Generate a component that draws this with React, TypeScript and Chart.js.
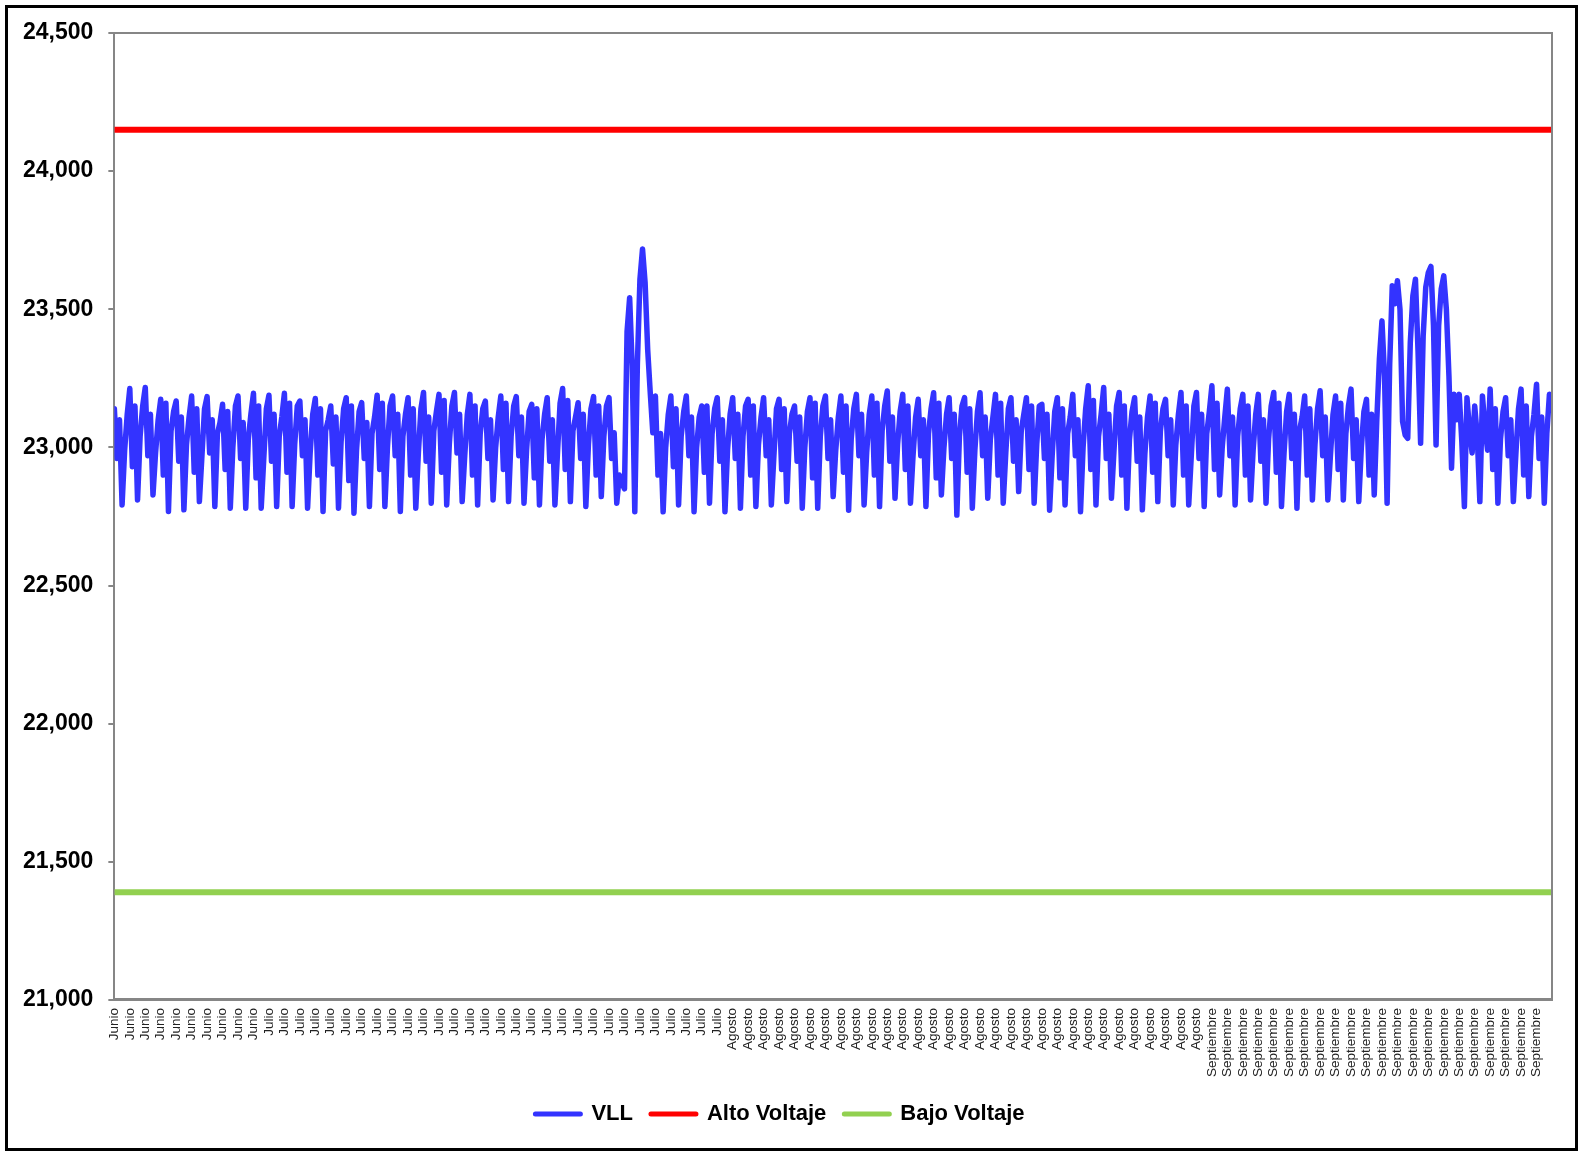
import React, { useEffect, useRef } from 'react';
import { Chart, registerables } from 'chart.js';

Chart.register(...registerables);

// Daily VLL readings (6 readings per day, every 4 hours), by month
const vllJunio: number[][] = [
  [23140, 22960, 23100, 22792, 22990, 23120],
  [23213, 22930, 23150, 22810, 23040, 23150],
  [23217, 22970, 23120, 22828, 22980, 23100],
  [23174, 22900, 23160, 22768, 23060, 23130],
  [23168, 22950, 23110, 22774, 23010, 23110],
  [23186, 22910, 23140, 22804, 22970, 23140],
  [23184, 22980, 23100, 22786, 23050, 23090],
  [23156, 22920, 23130, 22780, 23000, 23150],
  [23186, 22960, 23090, 22780, 23030, 23120],
  [23196, 22890, 23150, 22780, 22960, 23140],
];

const vllJulio: number[][] = [
  [23189, 22950, 23120, 22786, 23040, 23110],
  [23196, 22910, 23160, 22786, 23010, 23150],
  [23168, 22970, 23100, 22780, 22980, 23120],
  [23177, 22900, 23140, 22768, 23060, 23100],
  [23150, 22940, 23110, 22780, 23020, 23140],
  [23180, 22880, 23150, 22762, 22990, 23130],
  [23162, 22960, 23090, 22786, 23050, 23110],
  [23189, 22920, 23160, 22786, 23000, 23150],
  [23186, 22970, 23120, 22768, 23040, 23120],
  [23180, 22900, 23140, 22780, 22980, 23140],
  [23199, 22950, 23110, 22798, 23060, 23130],
  [23192, 22910, 23170, 22792, 23010, 23150],
  [23199, 22980, 23120, 22804, 22970, 23120],
  [23192, 22900, 23150, 22792, 23050, 23140],
  [23168, 22960, 23100, 22810, 23000, 23110],
  [23186, 22920, 23160, 22804, 23040, 23150],
  [23184, 22970, 23110, 22798, 22990, 23130],
  [23156, 22890, 23140, 22792, 23030, 23120],
  [23180, 22950, 23100, 22792, 22980, 23160],
  [23213, 22920, 23170, 22804, 23060, 23110],
  [23162, 22960, 23120, 22786, 23010, 23140],
  [23184, 22900, 23150, 22822, 23040, 23150],
  [23180, 22960, 23053, 22798, 22900, 22870],
  [22850, 23420, 23542, 23295, 22767, 23300],
  [23609, 23718, 23597, 23355, 23198, 23053],
  [23186, 22900, 23050, 22767, 23000, 23120],
  [23186, 22930, 23140, 22792, 23040, 23130],
  [23186, 22970, 23110, 22767, 23000, 23110],
  [23150, 22910, 23150, 22798, 23050, 23140],
  [23180, 22950, 23100, 22767, 22990, 23120],
];

const vllAgosto: number[][] = [
  [23180, 22960, 23120, 22780, 23040, 23150],
  [23174, 22900, 23150, 22786, 23010, 23110],
  [23180, 22970, 23100, 22792, 22970, 23140],
  [23174, 22920, 23140, 22804, 23050, 23120],
  [23150, 22950, 23110, 22780, 23000, 23130],
  [23180, 22890, 23160, 22780, 23040, 23150],
  [23186, 22960, 23100, 22822, 22990, 23110],
  [23186, 22910, 23150, 22773, 23030, 23140],
  [23192, 22970, 23120, 22792, 22980, 23120],
  [23186, 22900, 23160, 22786, 23060, 23150],
  [23204, 22950, 23110, 22816, 23010, 23130],
  [23192, 22920, 23150, 22798, 22970, 23110],
  [23174, 22970, 23100, 22786, 23050, 23140],
  [23198, 22890, 23160, 22828, 23000, 23120],
  [23180, 22960, 23120, 22755, 23040, 23150],
  [23180, 22910, 23140, 22780, 22990, 23130],
  [23198, 22970, 23110, 22816, 23030, 23110],
  [23192, 22900, 23160, 22798, 22980, 23140],
  [23180, 22950, 23100, 22840, 23060, 23120],
  [23180, 22920, 23150, 22798, 23010, 23150],
  [23156, 22960, 23120, 22773, 22970, 23130],
  [23180, 22890, 23140, 22792, 23050, 23110],
  [23192, 22970, 23100, 22767, 23000, 23140],
  [23223, 22920, 23170, 22792, 23040, 23120],
  [23217, 22960, 23120, 22816, 22990, 23150],
  [23199, 22900, 23150, 22780, 23030, 23130],
  [23180, 22950, 23110, 22774, 22980, 23110],
  [23186, 22910, 23160, 22804, 23060, 23140],
  [23174, 22970, 23100, 22792, 23010, 23120],
  [23199, 22900, 23150, 22792, 22970, 23150],
  [23199, 22960, 23120, 22786, 23050, 23130],
];

const vllSeptiembre: number[][] = [
  [23223, 22920, 23160, 22828, 23000, 23110],
  [23211, 22970, 23110, 22792, 23040, 23140],
  [23192, 22900, 23150, 22810, 22990, 23120],
  [23192, 22950, 23100, 22798, 23030, 23150],
  [23199, 22910, 23160, 22786, 22980, 23130],
  [23192, 22960, 23120, 22780, 23060, 23110],
  [23186, 22900, 23140, 22810, 23010, 23140],
  [23205, 22970, 23110, 22810, 22970, 23120],
  [23186, 22920, 23160, 22810, 23050, 23150],
  [23211, 22960, 23100, 22804, 23000, 23130],
  [23174, 22900, 23120, 22828, 23100, 23320],
  [23458, 23259, 22798, 23300, 23585, 23520],
  [23603, 23500, 23094, 23045, 23033, 23380],
  [23549, 23609, 23350, 23015, 23404, 23580],
  [23633, 23655, 23440, 23009, 23440, 23573],
  [23621, 23500, 23259, 22925, 23192, 23100],
  [23192, 23020, 22786, 23180, 23060, 22980],
  [23150, 23040, 22804, 23186, 23070, 22990],
  [23211, 22920, 23140, 22798, 23030, 23130],
  [23180, 22970, 23100, 22804, 22980, 23140],
  [23211, 22900, 23150, 22822, 23040, 23120],
  [23229, 22960, 23110, 22798, 23050, 23192],
];

const monthNames = ['Junio', 'Julio', 'Agosto', 'Septiembre'];
const altoVoltaje = 24150;
const bajoVoltaje = 21390;
const yTicks = [21000, 21500, 22000, 22500, 23000, 23500, 24000, 24500];

const monthRows = [vllJunio, vllJulio, vllAgosto, vllSeptiembre];
const dayLabels: string[] = [];
const vllPoints: { x: number; y: number }[] = [];
monthRows.forEach((rows, m) => {
  rows.forEach((row) => {
    const d = dayLabels.length;
    dayLabels.push(monthNames[m]);
    row.forEach((v, k) => vllPoints.push({ x: d + k / row.length, y: v }));
  });
});
const nDays = dayLabels.length;

const FONT = '"Liberation Sans", Arial, sans-serif';

const frameBorder = {
  id: 'frameBorder',
  afterDraw(chart: any) {
    const { ctx, chartArea } = chart;
    ctx.save();
    ctx.strokeStyle = '#868686';
    ctx.lineWidth = 2;
    ctx.beginPath();
    ctx.moveTo(chartArea.left, chartArea.top);
    ctx.lineTo(chartArea.right, chartArea.top);
    ctx.lineTo(chartArea.right, chartArea.bottom);
    ctx.stroke();
    ctx.restore();
  },
};

export default function App() {
  const ref = useRef<HTMLCanvasElement>(null);
  useEffect(() => {
    if (!ref.current) return;
    const chart = new Chart(ref.current, {
      type: 'line',
      data: {
        datasets: [
          {
            label: 'VLL',
            data: vllPoints,
            borderColor: '#3333ff',
            backgroundColor: '#3333ff',
            borderWidth: 5.5,
            pointRadius: 0,
            tension: 0,
            borderJoinStyle: 'round',
            borderCapStyle: 'round',
          },
          {
            label: 'Alto Voltaje',
            data: [
              { x: 0, y: altoVoltaje },
              { x: nDays, y: altoVoltaje },
            ],
            borderColor: '#ff0000',
            backgroundColor: '#ff0000',
            borderWidth: 6,
            pointRadius: 0,
          },
          {
            label: 'Bajo Voltaje',
            data: [
              { x: 0, y: bajoVoltaje },
              { x: nDays, y: bajoVoltaje },
            ],
            borderColor: '#92d050',
            backgroundColor: '#92d050',
            borderWidth: 6,
            pointRadius: 0,
          },
        ],
      },
      options: {
        responsive: false,
        animation: false,
        layout: { padding: { left: 8, top: 33, right: 33, bottom: 20 } },
        plugins: {
          tooltip: { enabled: false },
          legend: {
            position: 'bottom',
            labels: {
              usePointStyle: true,
              pointStyle: 'line',
              pointStyleWidth: 45,
              color: '#000',
              padding: 18,
              font: { family: FONT, size: 22, weight: 'bold' },
              generateLabels: (chart: any) =>
                chart.data.datasets.map((ds: any, i: number) => ({
                  text: ds.label,
                  strokeStyle: ds.borderColor,
                  fillStyle: ds.borderColor,
                  lineWidth: 5,
                  lineCap: 'round',
                  pointStyle: 'line',
                  datasetIndex: i,
                  hidden: false,
                  fontColor: '#000',
                })),
            },
          },
        },
        scales: {
          x: {
            type: 'linear',
            min: 0,
            max: nDays,
            afterBuildTicks: (axis: any) => {
              axis.ticks = dayLabels.map((_, i) => ({ value: i }));
            },
            ticks: {
              autoSkip: false,
              minRotation: 90,
              maxRotation: 90,
              padding: 8,
              color: '#222',
              font: { family: FONT, size: 13.5 },
              callback: (_v: any, i: number) => dayLabels[i] ?? '',
            },
            grid: { drawOnChartArea: false, drawTicks: false },
            border: { color: '#868686', width: 3 },
          },
          y: {
            min: 21000,
            max: 24500,
            afterBuildTicks: (axis: any) => {
              axis.ticks = yTicks.map((v) => ({ value: v }));
            },
            ticks: {
              padding: 15,
              color: '#000',
              font: { family: FONT, size: 23, weight: 'bold' },
              callback: (v: any) => Number(v).toLocaleString('en-US'),
            },
            grid: { drawOnChartArea: false, drawTicks: true, tickLength: 6, color: '#868686', lineWidth: 2 },
            border: { color: '#868686', width: 2 },
          },
        },
      },
      plugins: [frameBorder],
    } as any);
    return () => chart.destroy();
  }, []);

  return (
    <div style={{ position: 'absolute', left: 0, top: 0, width: 1585, height: 1155, background: '#fff' }}>
      <canvas ref={ref} width={1585} height={1155} style={{ position: 'absolute', left: 0, top: 0, width: 1585, height: 1155 }} />
      <div
        style={{
          position: 'absolute',
          left: 5,
          top: 5,
          width: 1573,
          height: 1146,
          border: '3px solid #000',
          boxSizing: 'border-box',
          pointerEvents: 'none',
        }}
      />
    </div>
  );
}
